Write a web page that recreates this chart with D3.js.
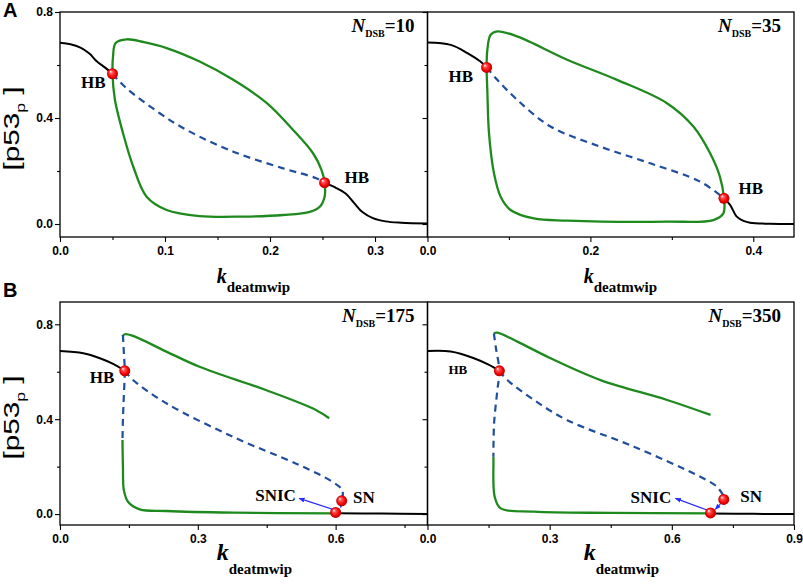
<html>
<head>
<script src="https://cdn.jsdelivr.net/npm/d3@7"></script>
<style>
  body { margin: 0; background: #fff; }
  svg text { font-family: "Liberation Sans", Arial, sans-serif; }
  .serif { font-family: "Liberation Serif", "Times New Roman", serif; font-weight: bold; }
</style>
</head>
<body>
<svg id="chart" width="803" height="584"></svg>
<script>
// ---- data: [k_deatmwip, p53p] ----

// N_DSB = 10
let n10Stable1 = [[0, 0.684], [0.01, 0.678], [0.02, 0.665], [0.028, 0.643], [0.035, 0.614], [0.043, 0.59], [0.05, 0.567]];
let n10Unstable = [[0.05, 0.567], [0.062, 0.517], [0.095, 0.418], [0.1205, 0.355], [0.165, 0.273], [0.2125, 0.21], [0.244, 0.173], [0.252, 0.156]];
let n10Stable2 = [[0.252, 0.156], [0.262, 0.138], [0.272, 0.115], [0.28, 0.08], [0.288, 0.045], [0.298, 0.022], [0.31, 0.01], [0.325, 0.005], [0.35, 0.002]];
let n10Cycle = [[0.05, 0.567], [0.0505, 0.632], [0.053, 0.683], [0.0635, 0.697], [0.08, 0.686], [0.1015, 0.664], [0.133, 0.613], [0.165, 0.544], [0.197, 0.456], [0.222, 0.355], [0.241, 0.267], [0.249, 0.204], [0.252, 0.156], [0.252, 0.103], [0.2474, 0.065], [0.238, 0.046], [0.2125, 0.034], [0.1745, 0.028], [0.133, 0.03], [0.1015, 0.053], [0.0825, 0.103], [0.0697, 0.217], [0.06, 0.343], [0.0523, 0.469]];
let n10Points = [[0.05, 0.567], [0.252, 0.156]];
let n10Labels = [["HB", 0.02, 0.514], ["HB", 0.271, 0.155]];

// N_DSB = 35
let n35Stable1 = [[0, 0.685], [0.0285, 0.676], [0.049, 0.645], [0.065, 0.613], [0.0726, 0.591]];
let n35Unstable = [[0.0726, 0.591], [0.0857, 0.544], [0.11, 0.469], [0.151, 0.368], [0.212, 0.292], [0.2735, 0.229], [0.3347, 0.16], [0.364, 0.097]];
let n35Stable2 = [[0.364, 0.097], [0.3715, 0.072], [0.3797, 0.028], [0.388, 0.012], [0.396, 0.005], [0.42, 0.001], [0.45, 0]];
let n35Cycle = [[0.0726, 0.591], [0.0735, 0.658], [0.0775, 0.714], [0.0857, 0.727], [0.11, 0.708], [0.1715, 0.62], [0.2327, 0.544], [0.294, 0.456], [0.3265, 0.368], [0.347, 0.267], [0.359, 0.179], [0.364, 0.097], [0.3633, 0.04], [0.351, 0.015], [0.294, 0.009], [0.1715, 0.013], [0.1306, 0.021], [0.102, 0.053], [0.0898, 0.103], [0.0816, 0.192], [0.0755, 0.343], [0.0735, 0.5]];
let n35Points = [[0.0726, 0.591], [0.364, 0.097]];
let n35Labels = [["HB", 0.0257, 0.537], ["HB", 0.382, 0.113]];

// N_DSB = 175
let n175Stable1 = [[0, 0.687], [0.0506, 0.678], [0.0868, 0.657], [0.1157, 0.633], [0.141, 0.604]];
let n175Unstable = [[0.141, 0.604], [0.159, 0.565], [0.2315, 0.467], [0.376, 0.326], [0.5206, 0.207], [0.593, 0.136], [0.6145, 0.101], [0.6145, 0.065]];
let n175UnstableCycle = [[0.137, 0.755], [0.139, 0.68], [0.141, 0.604], [0.139, 0.5], [0.137, 0.4], [0.136, 0.312]];
let n175CycleUpper = [[0.136, 0.748], [0.141, 0.758], [0.159, 0.751], [0.2315, 0.685], [0.3037, 0.621], [0.448, 0.523], [0.557, 0.439], [0.586, 0.404]];
let n175CycleLower = [[0.136, 0.312], [0.137, 0.2], [0.139, 0.101], [0.148, 0.052], [0.1735, 0.02], [0.2315, 0.013], [0.376, 0.006], [0.6, 0.003]];
let n175Stable2 = [[0.6, 0.004], [0.7, 0.002], [0.8, 0]];
let n175Points = [[0.141, 0.604], [0.6132, 0.056], [0.6, 0.007]];
let n175Arrows = [[[0.5987, 0.017], [0.5206, 0.066]], [[0.613, 0.048], [0.611, 0.028]]];
let n175Labels = [["HB", 0.065, 0.553], ["SNIC", 0.425, 0.056], ["SN", 0.638, 0.048]];

// N_DSB = 350
let n350Stable1 = [[0, 0.687], [0.057, 0.685], [0.114, 0.657], [0.15, 0.63], [0.1765, 0.604]];
let n350Unstable = [[0.1765, 0.604], [0.196, 0.565], [0.2616, 0.481], [0.343, 0.396], [0.507, 0.284], [0.67, 0.157], [0.711, 0.115], [0.7275, 0.075]];
let n350UnstableCycle = [[0.163, 0.762], [0.168, 0.7], [0.1765, 0.604], [0.1716, 0.523], [0.1635, 0.382], [0.1618, 0.242]];
let n350CycleUpper = [[0.163, 0.762], [0.1716, 0.765], [0.2207, 0.727], [0.302, 0.657], [0.425, 0.565], [0.5886, 0.481], [0.695, 0.418]];
let n350CycleLower = [[0.1618, 0.242], [0.162, 0.228], [0.165, 0.073], [0.1798, 0.024], [0.2616, 0.01], [0.45, 0.005], [0.695, 0.003]];
let n350Stable2 = [[0.695, 0.003], [0.8, 0.001], [0.9, 0]];
let n350Points = [[0.1765, 0.604], [0.7275, 0.062], [0.695, 0.005]];
let n350Arrows = [[[0.6866, 0.017], [0.609, 0.066]], [[0.72, 0.045], [0.707, 0.02]]];
let n350Labels = [["HB", 0.0515, 0.59], ["SNIC", 0.4987, 0.048], ["SN", 0.768, 0.051]];

// ticks
let xTicksA1 = [0, 0.1, 0.2, 0.3], xMinorA1 = [0.05, 0.15, 0.25];
let xTicksA2 = [0, 0.2, 0.4], xMinorA2 = [0.1, 0.3];
let xTicksB1 = [0, 0.3, 0.6], xMinorB1 = [0.15, 0.45, 0.75];
let xTicksB2 = [0, 0.3, 0.6, 0.9], xMinorB2 = [0.15, 0.45, 0.75];
let yTicks = [0, 0.4, 0.8], yMinor = [0.2, 0.6];

// ---- layout ----
let svg = d3.select("#chart");
let colors = { stable: "#000", cycle: "#1e8a1e", unstable: "#1f4e9c", arrow: "#2a2aff" };

let defs = svg.append("defs");
let grad = defs.append("radialGradient").attr("id", "ball")
    .attr("cx", "50%").attr("cy", "50%").attr("r", "50%").attr("fx", "32%").attr("fy", "30%");
grad.append("stop").attr("offset", "0%").attr("stop-color", "#fff");
grad.append("stop").attr("offset", "30%").attr("stop-color", "#ff5050");
grad.append("stop").attr("offset", "75%").attr("stop-color", "#f00000");
grad.append("stop").attr("offset", "100%").attr("stop-color", "#b00000");
defs.append("marker").attr("id", "head").attr("viewBox", "0 0 10 10")
    .attr("refX", 9).attr("refY", 5).attr("markerWidth", 6).attr("markerHeight", 6)
    .attr("orient", "auto").attr("markerUnits", "userSpaceOnUse")
  .append("path").attr("d", "M0,1 L10,5 L0,9 Z").attr("fill", colors.arrow);

let panels = [
  { name: "10", box: [60, 427.5, 12, 237], xDomain: [0, 0.35], yDomain: [-0.049, 0.8], xTicks: xTicksA1, xMinor: xMinorA1, yLabels: true,
    loop: n10Cycle, stable: [n10Stable1, n10Stable2], unstable: [n10Unstable], open: [], points: n10Points, labels: n10Labels, arrows: [], labelSize: [17, 17] },
  { name: "35", box: [427.5, 794, 12, 237], xDomain: [0, 0.45], yDomain: [-0.049, 0.8], xTicks: xTicksA2, xMinor: xMinorA2, yLabels: false,
    loop: n35Cycle, stable: [n35Stable1, n35Stable2], unstable: [n35Unstable], open: [], points: n35Points, labels: n35Labels, arrows: [], labelSize: [17, 17] },
  { name: "175", box: [60, 427.5, 302, 525], xDomain: [0, 0.8], yDomain: [-0.046, 0.894], xTicks: xTicksB1, xMinor: xMinorB1, yLabels: true,
    loop: null, stable: [n175Stable1, n175Stable2], unstable: [n175Unstable, n175UnstableCycle], open: [n175CycleUpper, n175CycleLower], points: n175Points, labels: n175Labels, arrows: n175Arrows, labelSize: [17, 17, 17] },
  { name: "350", box: [427.5, 794, 302, 525], xDomain: [0, 0.9], yDomain: [-0.046, 0.894], xTicks: xTicksB2, xMinor: xMinorB2, yLabels: false,
    loop: null, stable: [n350Stable1, n350Stable2], unstable: [n350Unstable, n350UnstableCycle], open: [n350CycleUpper, n350CycleLower], points: n350Points, labels: n350Labels, arrows: n350Arrows, labelSize: [13, 17, 17] }
];

function drawPanel(p, i) {
  let [x0, x1, y0, y1] = p.box;
  let xScale = d3.scaleLinear().domain(p.xDomain).range([x0, x1]);
  let yScale = d3.scaleLinear().domain(p.yDomain).range([y1, y0]);
  let g = svg.append("g");

  // axes
  let axX = g.append("g").attr("transform", `translate(0,${y1})`)
      .call(d3.axisBottom(xScale).tickValues(p.xTicks).tickSize(5).tickSizeOuter(0).tickFormat(d3.format(".1f")));
  g.append("g").attr("transform", `translate(0,${y1})`)
      .call(d3.axisBottom(xScale).tickValues(p.xMinor).tickSize(3).tickFormat(""));
  let axY = g.append("g").attr("transform", `translate(${x0},0)`)
      .call(d3.axisLeft(yScale).tickValues(yTicks).tickSize(5).tickSizeOuter(0).tickFormat(p.yLabels ? d3.format(".1f") : ""));
  g.append("g").attr("transform", `translate(${x0},0)`)
      .call(d3.axisLeft(yScale).tickValues(yMinor).tickSize(3).tickFormat(""));
  g.selectAll(".domain").remove();
  g.selectAll(".tick line").attr("stroke", "#000").attr("stroke-width", 1.1);
  g.selectAll(".tick text").attr("font-size", 12).attr("font-weight", "bold")
      .attr("font-family", "'Liberation Sans', Arial, sans-serif").attr("fill", "#000");
  axX.selectAll(".tick text").attr("dy", "0.85em");
  axY.selectAll(".tick text").attr("x", -7);

  g.append("rect").attr("x", x0).attr("y", y0).attr("width", x1 - x0).attr("height", y1 - y0)
      .attr("fill", "none").attr("stroke", "#000").attr("stroke-width", 1.3);

  let line = d3.line().x(d => xScale(d[0])).y(d => yScale(d[1])).curve(d3.curveCatmullRom.alpha(0.5));
  let loopLine = d3.line().x(d => xScale(d[0])).y(d => yScale(d[1])).curve(d3.curveCatmullRomClosed.alpha(0.5));

  if (p.loop) {
    g.append("path").attr("d", loopLine(p.loop)).attr("fill", "none")
        .attr("stroke", colors.cycle).attr("stroke-width", 2.3);
  }
  g.selectAll(".open").data(p.open).enter().append("path")
      .attr("d", d => line(d)).attr("fill", "none").attr("stroke", colors.cycle).attr("stroke-width", 2.3);
  g.selectAll(".uns").data(p.unstable).enter().append("path")
      .attr("d", d => line(d)).attr("fill", "none").attr("stroke", colors.unstable)
      .attr("stroke-width", 2.2).attr("stroke-dasharray", "7,5");
  g.selectAll(".stab").data(p.stable).enter().append("path")
      .attr("d", d => line(d)).attr("fill", "none").attr("stroke", colors.stable).attr("stroke-width", 2);

  g.selectAll(".arr").data(p.arrows).enter().append("line")
      .attr("x1", d => xScale(d[0][0])).attr("y1", d => yScale(d[0][1]))
      .attr("x2", d => xScale(d[1][0])).attr("y2", d => yScale(d[1][1]))
      .attr("stroke", colors.arrow).attr("stroke-width", 1.2).attr("marker-end", "url(#head)");

  g.selectAll(".pt").data(p.points).enter().append("circle")
      .attr("cx", d => xScale(d[0])).attr("cy", d => yScale(d[1])).attr("r", 5.5)
      .attr("fill", "url(#ball)");

  g.selectAll(".lab").data(p.labels).enter().append("text")
      .attr("class", "serif")
      .attr("x", d => xScale(d[1])).attr("y", d => yScale(d[2]))
      .attr("font-size", (d, j) => p.labelSize[j]).attr("fill", "#000")
      .text(d => d[0]);

  // N_DSB tag
  let tag = g.append("text").attr("class", "serif").attr("text-anchor", "end")
      .attr("x", x1 - 13).attr("y", y0 + 20).attr("font-size", 19);
  tag.append("tspan").attr("font-style", "italic").text("N");
  tag.append("tspan").attr("font-size", 10).attr("dy", 5).text("DSB");
  tag.append("tspan").attr("dy", -5).text("=" + p.name);

  // x axis title
  let top = i < 2;
  let cx = (x0 + x1) / 2 - 27;
  let xt = g.append("text").attr("class", "serif").attr("x", cx).attr("y", top ? 283 : 560);
  xt.append("tspan").attr("font-style", "italic").attr("font-size", top ? 20 : 24).text("k");
  xt.append("tspan").attr("font-size", 15).attr("dy", top ? 9 : 14).text("deatmwip");

  // y axis title
  if (p.yLabels) {
    let yt = g.append("text").attr("text-anchor", "middle").attr("font-size", 22)
        .attr("transform", `translate(19,${(y0 + y1) / 2 + 4}) rotate(-90) scale(1.35,1)`);
    yt.append("tspan").text("[p53");
    yt.append("tspan").attr("font-size", 13).attr("dy", 6).text("p");
    yt.append("tspan").attr("dy", -6).text(" ]");
  }
}

panels.forEach(drawPanel);

svg.append("text").attr("x", 3).attr("y", 17).attr("font-size", 20).attr("font-weight", "bold").text("A");
svg.append("text").attr("x", 3).attr("y", 297).attr("font-size", 20).attr("font-weight", "bold").text("B");
</script>
</body>
</html>
